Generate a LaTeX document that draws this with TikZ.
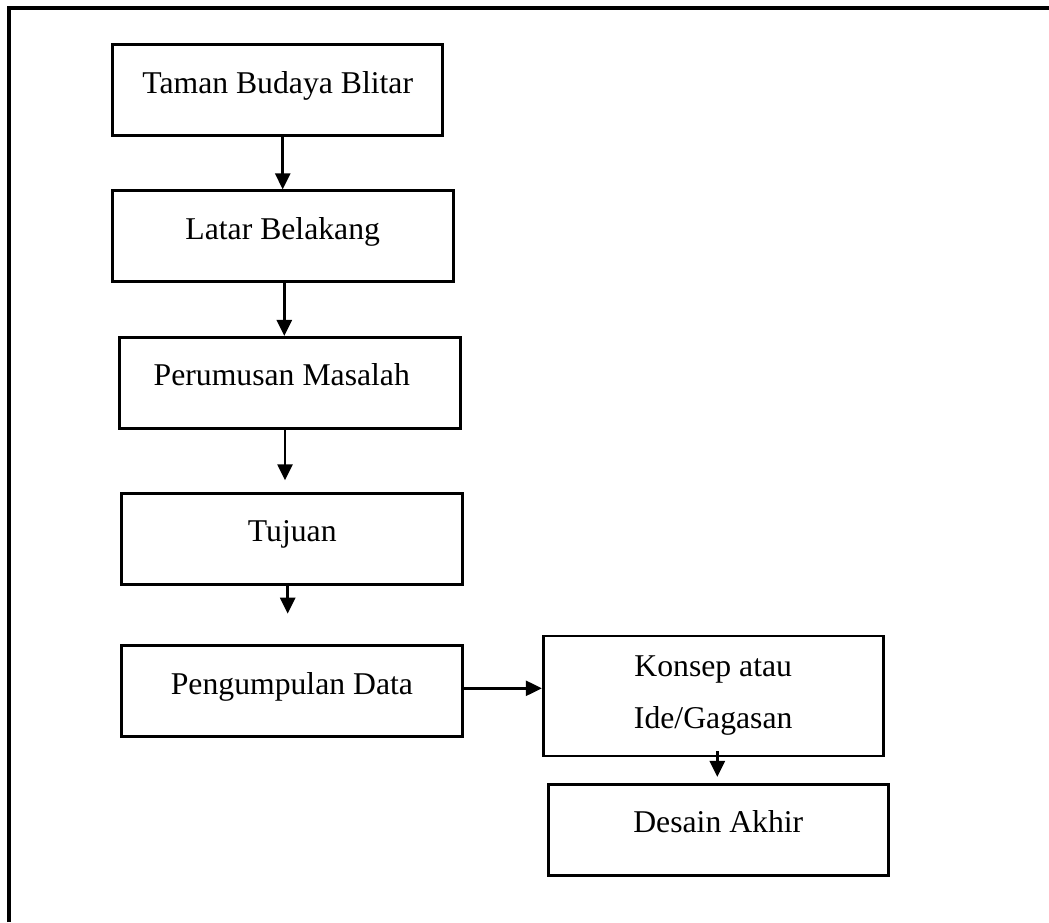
\documentclass[tikz,border=0pt]{standalone}
\usepackage{fontspec}
\setmainfont{Liberation Serif}
\usetikzlibrary{arrows.meta,positioning,calc}
\tikzset{
  flowbox/.style={rectangle,draw=black,line width=2.7pt,align=center,inner sep=0pt,
    minimum width=341pt,minimum height=91pt,text height=22pt,text depth=16pt,
    font=\fontsize{31.7}{48}\selectfont},
  arrow/.style={-{Triangle[length=16pt,width=15pt]},line width=2.6pt,black},
  frame/.style={line width=3.3pt,black}
}

\begin{document}
\begin{tikzpicture}[x=1pt,y=-1pt]
    \useasboundingbox (0,0) rectangle (1049,922);
    \draw[frame] (9,922) -- (9,8) -- (1049,8);
    \node[flowbox,minimum width=330pt,minimum height=90.6pt] (taman) at (277.7,90) {Taman Budaya Blitar};
    \node[flowbox] (latar) at (282.7,236.2) {Latar Belakang};
    \node[flowbox] (rumusan) at (290.3,382.8) {Perumusan Masalah\hspace*{17pt}};
    \node[flowbox] (tujuan) at (292.3,538.7) {Tujuan};
    \node[flowbox] (data) at (291.9,691.2) {Pengumpulan Data};
    \node[flowbox,minimum width=340pt,minimum height=120pt,text height=,text depth=,
      font=\fontsize{31.7}{52}\selectfont] (konsep) at (713.2,696) {Konsep atau\\Ide/Gagasan};
    \node[flowbox,minimum width=340pt,minimum height=91.4pt,text depth=17pt] (desain) at (718.3,830) {Desain Akhir};
    \draw[arrow] (latar.north |- taman.south) -- (latar.north);
    \draw[arrow] ([xshift=1.6pt]latar.south) -- ([xshift=1.6pt]latar.south |- rumusan.north);
    \draw[arrow] ([xshift=-5.3pt]rumusan.south) -- ([xshift=-7.3pt,yshift=11.6pt]tujuan.north);
    \draw[arrow] ([xshift=-4.6pt]tujuan.south) -- ([xshift=-4.2pt,yshift=30.7pt]data.north);
    \draw[arrow] ([yshift=2.9pt]data.east) -- ([yshift=2.9pt]data.east -| konsep.west);
    \draw[arrow] ([xshift=4.1pt,yshift=6pt]konsep.south) -- ([xshift=-1pt,yshift=6pt]desain.north);
  \end{tikzpicture}
\end{document}
